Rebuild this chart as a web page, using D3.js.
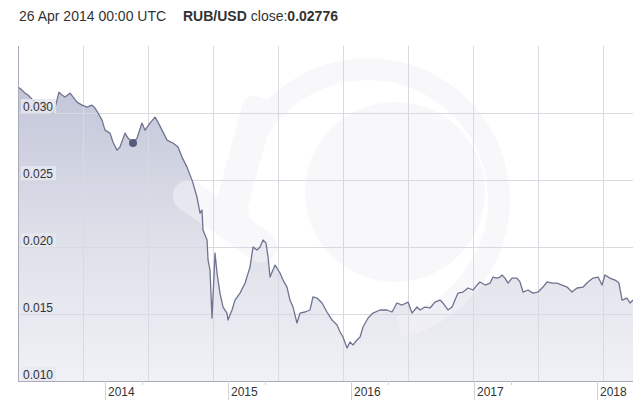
<!DOCTYPE html>
<html><head><meta charset="utf-8">
<script src="https://cdn.jsdelivr.net/npm/d3@7"></script>
<style>html,body{margin:0;padding:0;background:#fff;}svg{display:block;}</style>
</head><body>
<svg id="c" width="633" height="400"></svg>
<script>
// time in decimal years
const dates = [2013.382,2013.415,2013.439,2013.463,2013.504,2013.545,2013.585,2013.626,2013.667,2013.691,2013.715,2013.740,2013.764,2013.805,2013.837,2013.862,2013.902,2013.943,2013.984,2014.008,2014.033,2014.065,2014.089,2014.130,2014.154,2014.187,2014.211,2014.252,2014.276,2014.317,2014.350,2014.390,2014.415,2014.455,2014.496,2014.520,2014.553,2014.593,2014.642,2014.683,2014.715,2014.756,2014.797,2014.837,2014.862,2014.878,2014.886,2014.919,2014.927,2014.943,2014.959,2014.984,2015.000,2015.024,2015.049,2015.081,2015.089,2015.122,2015.146,2015.187,2015.228,2015.268,2015.293,2015.325,2015.350,2015.374,2015.398,2015.415,2015.431,2015.472,2015.512,2015.537,2015.569,2015.593,2015.618,2015.650,2015.675,2015.715,2015.756,2015.780,2015.813,2015.854,2015.894,2015.935,2015.976,2016.000,2016.024,2016.057,2016.081,2016.106,2016.138,2016.163,2016.187,2016.228,2016.268,2016.325,2016.382,2016.423,2016.463,2016.504,2016.553,2016.585,2016.626,2016.650,2016.691,2016.732,2016.772,2016.813,2016.837,2016.878,2016.911,2016.935,2016.959,2017.000,2017.041,2017.081,2017.114,2017.138,2017.179,2017.220,2017.244,2017.276,2017.301,2017.317,2017.341,2017.366,2017.398,2017.439,2017.463,2017.488,2017.528,2017.569,2017.610,2017.650,2017.683,2017.724,2017.764,2017.805,2017.846,2017.886,2017.927,2017.976,2018.016,2018.057,2018.098,2018.130,2018.154,2018.195,2018.236,2018.268,2018.293,2018.333,2018.358,2018.382];
const rates = [0.03193,0.03171,0.03148,0.03134,0.03096,0.03074,0.03089,0.03052,0.03000,0.03066,0.03156,0.03134,0.03119,0.03148,0.03111,0.03081,0.03059,0.03044,0.03059,0.03037,0.03000,0.02947,0.02872,0.02850,0.02783,0.02723,0.02746,0.02850,0.02813,0.02776,0.02813,0.02925,0.02872,0.02925,0.02969,0.02932,0.02872,0.02798,0.02776,0.02746,0.02671,0.02596,0.02499,0.02373,0.02253,0.02276,0.02126,0.02052,0.01903,0.01828,0.01470,0.01955,0.01806,0.01656,0.01552,0.01507,0.01455,0.01530,0.01604,0.01656,0.01731,0.01850,0.02000,0.01977,0.02000,0.02052,0.02030,0.01925,0.01776,0.01865,0.01806,0.01753,0.01701,0.01604,0.01552,0.01433,0.01507,0.01515,0.01530,0.01627,0.01619,0.01582,0.01515,0.01455,0.01418,0.01366,0.01328,0.01246,0.01291,0.01269,0.01306,0.01328,0.01403,0.01470,0.01507,0.01530,0.01530,0.01515,0.01582,0.01567,0.01589,0.01507,0.01552,0.01530,0.01552,0.01545,0.01589,0.01604,0.01582,0.01530,0.01552,0.01604,0.01656,0.01664,0.01694,0.01679,0.01716,0.01739,0.01716,0.01731,0.01776,0.01768,0.01776,0.01791,0.01768,0.01731,0.01768,0.01768,0.01739,0.01664,0.01679,0.01656,0.01664,0.01701,0.01739,0.01731,0.01731,0.01716,0.01701,0.01664,0.01694,0.01701,0.01739,0.01768,0.01776,0.01716,0.01791,0.01768,0.01753,0.01731,0.01604,0.01619,0.01582,0.01604];
const yTicks = [0.010,0.015,0.020,0.025,0.030];
const xTickYears = [2014,2015,2016,2017,2018];
const hoverDate = 2014.317, hoverRate = 0.02776;
const headerDate = "26 Apr 2014 00:00 UTC", pairLabel = "RUB/USD", closeLabel = "close:", closeValue = "0.02776";

const data = dates.map((d,i)=>({t:d, v:rates[i]}));
const svg = d3.select("#c");
const L = 18, R = 633, T = 46, B = 381;
const x = d3.scaleLinear().domain([2013.382, 2018.382]).range([L, R]);
const y = d3.scaleLinear().domain([0.010, 0.035]).range([B, T]);

const defs = svg.append("defs");
const g1 = defs.append("linearGradient").attr("id","ag").attr("gradientUnits","userSpaceOnUse")
  .attr("x1",0).attr("x2",0).attr("y1",80).attr("y2",B);
g1.append("stop").attr("offset",0).attr("stop-color","#c2c5d8");
g1.append("stop").attr("offset",0.55).attr("stop-color","#dfe1ea");
g1.append("stop").attr("offset",1).attr("stop-color","#f0f1f6");

// header
const hdr = svg.append("text").attr("x",19).attr("y",21).attr("font-family","Liberation Sans, Arial, sans-serif").attr("font-size",14).attr("fill","#333");
hdr.append("tspan").text(headerDate);
hdr.append("tspan").attr("x",183).attr("font-weight","bold").text(pairLabel);
hdr.append("tspan").attr("dx",4).text(closeLabel);
hdr.append("tspan").attr("font-weight","bold").text(closeValue);

// area
svg.append("path").datum(data).attr("fill","url(#ag)")
  .attr("d", d3.area().x(d=>x(d.t)).y0(B).y1(d=>y(d.v)));

// watermark
const wm = svg.append("g").attr("fill","#f4f4f8").attr("opacity",0.55);
wm.append("path").attr("fill-rule","evenodd")
  .attr("d", d3.arc()({innerRadius:120,outerRadius:142,startAngle:-1.9,endAngle:2.9}))
  .attr("transform","translate(368,200)");
wm.append("circle").attr("cx",395).attr("cy",192).attr("r",90);
wm.append("rect").attr("x",165).attr("y",205).attr("width",120).attr("height",32).attr("rx",16).attr("transform","rotate(35,225,221)");
wm.append("rect").attr("x",228).attr("y",95).attr("width",32).attr("height",130).attr("rx",12).attr("transform","rotate(15,244,160)");

// gridlines
const grid = svg.append("g").attr("stroke","#d9d9e1").attr("stroke-width",1).attr("shape-rendering","crispEdges");
grid.selectAll("line.h").data(yTicks.slice(1)).join("line")
  .attr("x1",L).attr("x2",R).attr("y1",d=>Math.round(y(d))+0.5).attr("y2",d=>Math.round(y(d))+0.5);
grid.selectAll("line.v").data(d3.range(L+65, R, 65)).join("line")
  .attr("x1",d=>d+0.5).attr("x2",d=>d+0.5).attr("y1",T).attr("y2",B);

// line
svg.append("path").datum(data).attr("fill","none").attr("stroke","#6f7391").attr("stroke-width",1.3)
  .attr("stroke-linejoin","round")
  .attr("d", d3.line().x(d=>x(d.t)).y(d=>y(d.v)));

// hover dot
svg.append("circle").attr("cx",x(hoverDate)).attr("cy",y(hoverRate)).attr("r",4).attr("fill","#565b7e");

// axes lines
svg.append("line").attr("x1",L+0.5).attr("x2",L+0.5).attr("y1",T).attr("y2",B).attr("stroke","#a9abbb").attr("shape-rendering","crispEdges");
svg.append("line").attr("x1",L).attr("x2",R).attr("y1",B+0.5).attr("y2",B+0.5).attr("stroke","#a9abbb").attr("shape-rendering","crispEdges");

// y labels
const yl = svg.append("g").attr("font-family","Liberation Sans, Arial, sans-serif").attr("font-size",12).attr("fill","#333");
yTicks.forEach(v=>{
  const yy = Math.round(y(v));
  yl.append("rect").attr("x",21).attr("y",yy-14).attr("width",35).attr("height",14).attr("fill","#e6e7f0").attr("opacity",0.85);
  yl.append("text").attr("x",23).attr("y",yy-2).text(v.toFixed(3));
});

// x labels
const xl = svg.append("g").attr("font-family","Liberation Sans, Arial, sans-serif").attr("font-size",12).attr("fill","#333");
xTickYears.forEach(yr=>{
  const xx = Math.round(x(yr))+11;
  xl.append("line").attr("x1",xx+0.5).attr("x2",xx+0.5).attr("y1",B).attr("y2",400).attr("stroke","#d0d0d8");
  xl.append("line").attr("x1",xx+37.5).attr("x2",xx+37.5).attr("y1",B).attr("y2",B+4).attr("stroke","#d0d0d8");
  xl.append("text").attr("x",xx+3).attr("y",396).text(yr);
});
</script>
</body></html>
